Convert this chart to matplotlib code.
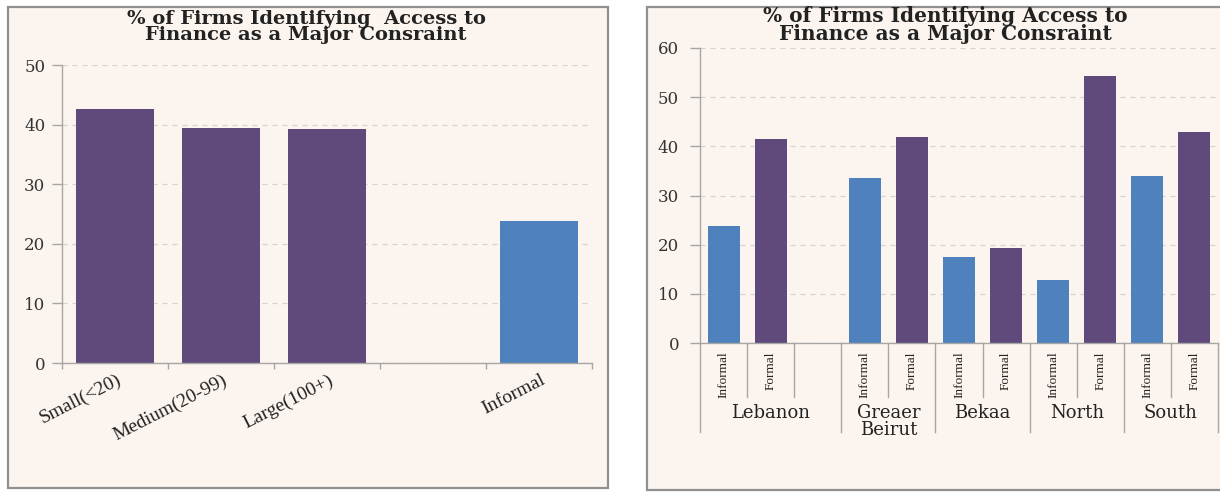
import numpy as np
import matplotlib
matplotlib.use("Agg")
import matplotlib.pyplot as plt
from matplotlib.patches import Rectangle
from matplotlib.transforms import blended_transform_factory, ScaledTranslation

# ---------------- data ----------------
title_left = "% of Firms Identifying  Access to\nFinance as a Major Consraint"
title_right = "% of Firms Identifying Access to\nFinance as a Major Consraint"

size_labels = ["Small(<20)", "Medium(20-99)", "Large(100+)", "", "Informal"]
size_values = [42.6, 39.5, 39.2, np.nan, 23.9]
size_kind = ["Formal", "Formal", "Formal", "", "Informal"]

regions = ["Lebanon", "Greaer\nBeirut", "Bekaa", "North", "South"]
region_slots = [3, 2, 2, 2, 2]
informal_values = [23.8, 33.5, 17.5, 12.8, 33.9]
formal_values = [41.5, 42.0, 19.3, 54.3, 42.9]
sub_labels = ["Informal", "Formal"]

# ---------------- style ----------------
W, H = 1220, 492
BG = "#FCF4EE"
PURPLE = "#5F4A7B"
BLUE = "#4F81BD"
GRID = "#D6D2CE"
SPINE = "#A6A6A6"
BORDER = "#8F8F8F"
TXT = "#222222"
colors = {"Formal": PURPLE, "Informal": BLUE, "": BG}

fig = plt.figure(figsize=(W / 100, H / 100), dpi=100)
fig.patch.set_facecolor("white")


def px_rect(x0, y0, x1, y1):
    return [x0 / W, 1 - y1 / H, (x1 - x0) / W, (y1 - y0) / H]


def panel(x0, y0, x1, y1):
    r = Rectangle((x0 / W, 1 - y1 / H), (x1 - x0) / W, (y1 - y0) / H,
                  transform=fig.transFigure, facecolor=BG, edgecolor=BORDER,
                  linewidth=1.6, zorder=-5)
    fig.patches.append(r)


panel(8, 7, 608, 488)
panel(647, 7, 1228, 490)


def style_axes(ax, ymax, step, pad):
    ax.set_facecolor("none")
    ax.set_ylim(0, ymax)
    ax.set_yticks(np.arange(0, ymax + 1, step))
    for s in ("top", "right"):
        ax.spines[s].set_visible(False)
    for s in ("left", "bottom"):
        ax.spines[s].set_color(SPINE)
        ax.spines[s].set_linewidth(1.0)
    ax.yaxis.grid(True, color=GRID, linestyle=(0, (4, 4)), linewidth=0.9)
    ax.set_axisbelow(True)
    ax.tick_params(axis="y", length=7, width=1, color=SPINE, pad=pad)
    for lab in ax.get_yticklabels():
        lab.set_fontfamily("DejaVu Serif")
        lab.set_fontsize(12)
        lab.set_color("#333333")


# ---------------- left chart ----------------
axL = fig.add_axes(px_rect(62, 65, 592, 363))
xL = np.arange(len(size_labels))
axL.bar(xL, size_values, width=0.74, color=[colors[k] for k in size_kind],
        zorder=2)
axL.set_xlim(-0.5, len(size_labels) - 0.5)
style_axes(axL, 50, 10, 5)
axL.set_xticks(np.arange(-0.5, len(size_labels), 1.0))
axL.set_xticklabels([])
axL.tick_params(axis="x", which="major", length=4, width=1, color=SPINE)
axL.set_xticks(xL, minor=True)
axL.set_xticklabels(size_labels, minor=True, rotation=27, ha="right",
                    va="top", rotation_mode="anchor",
                    fontfamily="Liberation Serif", fontsize=14, color=TXT)
axL.tick_params(axis="x", which="minor", length=0, pad=6)
shift = ScaledTranslation(1 / 100, 0, fig.dpi_scale_trans)
for lab in axL.get_xticklabels(minor=True):
    lab.set_transform(lab.get_transform() + shift)

fig.text(306 / W, 1 - 27 / H, title_left, ha="center", va="center",
         fontfamily="DejaVu Serif", fontweight="bold", fontsize=14,
         linespacing=0.92, color=TXT)

# ---------------- right chart ----------------
axR = fig.add_axes(px_rect(700, 48, 1218, 343))
positions, values, kinds, bounds_short, bounds_long, centers = [], [], [], [], [], []
pos = 0
bounds_long.append(-0.5)
for g, n in enumerate(region_slots):
    start = pos
    positions += [pos, pos + 1]
    values += [informal_values[g], formal_values[g]]
    kinds += sub_labels
    for k in range(1, n):
        bounds_short.append(pos + k - 0.5)
    pos += n
    bounds_long.append(pos - 0.5)
    centers.append((start + pos - 1) / 2)

axR.bar(positions, values, width=0.68, color=[colors[k] for k in kinds],
        zorder=2)
axR.set_xlim(-0.5, pos - 0.5)
style_axes(axR, 60, 10, 8)
axR.set_xticks(positions)
axR.set_xticklabels(kinds, rotation=90, ha="center", va="top",
                    fontfamily="Liberation Serif", fontsize=9.5, color=TXT)
axR.tick_params(axis="x", length=0, pad=6)

trans = blended_transform_factory(axR.transData, axR.transAxes)
for b in bounds_short:
    axR.plot([b, b], [0, -54 / 295], transform=trans, color=SPINE,
             linewidth=1.0, clip_on=False)
for b in bounds_long:
    axR.plot([b, b], [0, -89 / 295], transform=trans, color=SPINE,
             linewidth=1.0, clip_on=False)
for c, name in zip(centers, regions):
    axR.text(c, -61 / 295, name, transform=trans, ha="center", va="top",
             fontfamily="DejaVu Serif", fontsize=13, color=TXT,
             linespacing=0.95)

fig.text(945 / W, 1 - 25 / H, title_right, ha="center", va="center",
         fontfamily="DejaVu Serif", fontweight="bold", fontsize=14.5,
         linespacing=0.9, color=TXT)

fig.savefig("out.png", dpi=100, facecolor=fig.get_facecolor())
